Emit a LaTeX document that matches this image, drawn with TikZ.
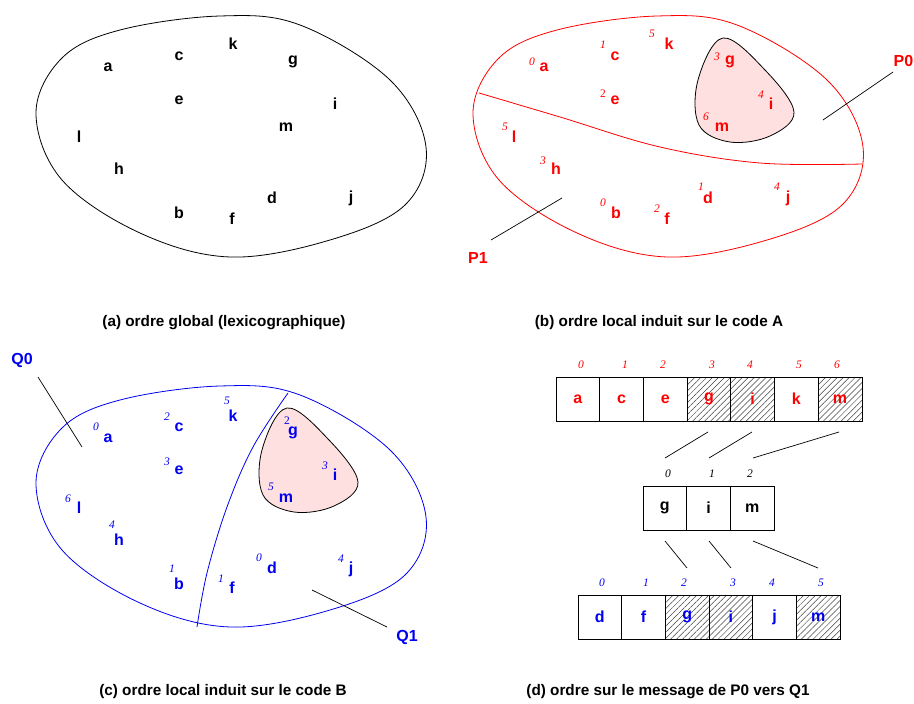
\documentclass[tikz,border=0pt]{standalone}
\usepackage{fontspec}
\setmainfont{Liberation Sans}
\newfontfamily\idxfont{Liberation Serif}
\usetikzlibrary{patterns.meta}
\definecolor{pinkfill}{RGB}{255,224,224}
\definecolor{myred}{RGB}{255,0,0}
\definecolor{myblue}{RGB}{0,0,240}
\newcommand\outerblob[1]{\draw[#1, line width=0.8pt] plot[smooth cycle, tension=0.6] coordinates{(36,113) (62,58) (120,30) (220,16) (300,25) (390,80) (426,147) (405,205) (330,240) (230,257) (140,233) (62,180)};}
\newcommand\innerblob{\draw[black, line width=0.8pt, fill=pinkfill] plot[smooth cycle, tension=0.6] coordinates{(723,38) (765,70) (794,112) (770,136) (730,142) (699,125) (698,80)};}
\begin{document}
\begin{tikzpicture}[x=1pt,y=-1pt,
  lt/.style={font=\fontsize{16}{16}\selectfont\bfseries, inner sep=0pt},
  ix/.style={font=\fontsize{11.5}{11.5}\selectfont\idxfont\itshape, inner sep=0pt},
  ixu/.style={font=\fontsize{11.5}{11.5}\selectfont\idxfont, inner sep=0pt},
  captxt/.style={font=\fontsize{15.3}{16}\selectfont\bfseries, inner sep=0pt},
  lbl/.style={font=\fontsize{16}{16}\selectfont\bfseries, inner sep=0pt},
  cell/.style={draw, line width=0.8pt, minimum width=43.7pt, minimum height=44pt, inner sep=0pt, font=\fontsize{16}{16}\selectfont\bfseries},
  hatch/.style={pattern={Lines[angle=45,distance=4.2pt,line width=0.5pt]}, pattern color=black!75},
  leader/.style={draw, black, line width=0.7pt}]
\useasboundingbox (0,0) rectangle (914,704);

% ---------- (a) ----------
\outerblob{black}
\begin{scope}[every node/.style={lt}]
\node (Aa) at (108,67) {a};
\node (Ac) at (179,56) {c};
\node (Ak) at (233,44) {k};
\node (Ag) at (293,62) {g};
\node (Ae) at (179,100) {e};
\node (Ai) at (335,104) {i};
\node (Am) at (286,127) {m};
\node (Al) at (79,137) {l};
\node (Ah) at (119,169) {h};
\node (Ab) at (179,213) {b};
\node (Af) at (232,219) {f};
\node (Ad) at (272,198) {d};
\node (Aj) at (351,198) {j};
\end{scope}
\node[captxt] (capA) at (224,323) {(a) ordre global (lexicographique)};

% ---------- (b) ----------
\begin{scope}[shift={(437,0)}]
\outerblob{myred}
\end{scope}
\innerblob
\draw[myred, line width=0.8pt] plot[smooth, tension=0.6] coordinates{(479,93) (560,117) (660,147) (760,163) (862,164)};
\begin{scope}[myred]
\node[lt] (Ba) at (544,67) {a};   \node[ix] (Ba0) at (532,62) {0};
\node[lt] (Bc) at (615,56) {c};   \node[ix] (Bc1) at (603,45) {1};
\node[lt] (Bk) at (669,44) {k};   \node[ix] (Bk5) at (652,34) {5};
\node[lt] (Bg) at (730,62) {g};   \node[ix] (Bg3) at (717,57) {3};
\node[lt] (Be) at (615,100) {e};  \node[ixu] (Be2) at (603,94) {2};
\node[lt] (Bi) at (771,104) {i};  \node[ix] (Bi4) at (761,95) {4};
\node[lt] (Bm) at (722,127) {m};  \node[ix] (Bm6) at (706,117) {6};
\node[lt] (Bl) at (514,137) {l};  \node[ix] (Bl5) at (505,127) {5};
\node[lt] (Bh) at (556,169) {h};  \node[ix] (Bh3) at (543,161) {3};
\node[lt] (Bb) at (616,213) {b};  \node[ix] (Bb0) at (603,203) {0};
\node[lt] (Bf) at (667,219) {f};  \node[ix] (Bf2) at (657,209) {2};
\node[lt] (Bd) at (708,198) {d};  \node[ix] (Bd1) at (701,187) {1};
\node[lt] (Bj) at (788,198) {j};  \node[ix] (Bj4) at (777,187) {4};
\node[lbl, anchor=east] (P0) at (913.5,61) {P0};
\node[lbl] (P1) at (478,258) {P1};
\end{scope}
\coordinate (p0a) at (893,72);
\coordinate (p0b) at (823,120);
\coordinate (p1a) at (491,240);
\coordinate (p1b) at (562,198);
\draw[leader] (p0a) -- (p0b);
\draw[leader] (p1a) -- (p1b);
\node[captxt] (capB) at (659,323) {(b) ordre local induit sur le code A};

% ---------- (c) ----------
\begin{scope}[shift={(0,370)}]
\outerblob{myblue}
\end{scope}
\begin{scope}[shift={(-436,370)}]
\innerblob
\end{scope}
\draw[myblue, line width=0.8pt] plot[smooth, tension=0.6] coordinates{(288,393) (253,447) (227,507) (207,573) (197,627)};
\begin{scope}[myblue]
\node[lt] (Ca) at (108,438) {a};  \node[ix] (Ca0) at (96,427) {0};
\node[lt] (Cc) at (179,427) {c};  \node[ix] (Cc2) at (167,417) {2};
\node[lt] (Ck) at (233,416) {k};  \node[ix] (Ck5) at (227,401) {5};
\node[lt] (Cg) at (293,433) {g};  \node[ixu] (Cg2) at (287,421) {2};
\node[lt] (Ce) at (179,470) {e};  \node[ix] (Ce3) at (167,462) {3};
\node[lt] (Ci) at (335,475) {i};  \node[ix] (Ci3) at (325,466) {3};
\node[lt] (Cm) at (286,498) {m};  \node[ix] (Cm5) at (271,487) {5};
\node[lt] (Cl) at (79,508) {l};   \node[ix] (Cl6) at (68,499) {6};
\node[lt] (Ch) at (119,540) {h};  \node[ix] (Ch4) at (112,525) {4};
\node[lt] (Cb) at (179,584) {b};  \node[ix] (Cb1) at (172,569) {1};
\node[lt] (Cf) at (232,588) {f};  \node[ix] (Cf1) at (221,579) {1};
\node[lt] (Cd) at (272,568) {d};  \node[ix] (Cd0) at (259,558) {0};
\node[lt] (Cj) at (351,569) {j};  \node[ix] (Cj4) at (341,559) {4};
\node[lbl] (Q0) at (22,360) {Q0};
\node[lbl] (Q1) at (407,637) {Q1};
\end{scope}
\coordinate (q0a) at (38,377);
\coordinate (q0b) at (82,447);
\coordinate (q1a) at (312,590);
\coordinate (q1b) at (387,627);
\draw[leader] (q0a) -- (q0b);
\draw[leader] (q1a) -- (q1b);
\node[captxt] (capC) at (223,692) {(c) ordre local induit sur le code B};

% ---------- (d) ----------
\begin{scope}[text=myred]
\node[cell] (T0) at (577.9,399) {a};
\node[cell] (T1) at (621.6,399) {c};
\node[cell] (T2) at (665.3,399) {e};
\node[cell, hatch] (T3) at (709.0,399) {g};
\node[cell, hatch] (T4) at (752.7,399) {i};
\node[cell] (T5) at (796.4,399) {k};
\node[cell, hatch] (T6) at (840.1,399) {m};
\end{scope}
\begin{scope}[myred]
\node[ix] (t0) at (581,365) {0};
\node[ix] (t1) at (625,365) {1};
\node[ix] (t2) at (663,365) {2};
\node[ix] (t3) at (712,365) {3};
\node[ix] (t4) at (750,365) {4};
\node[ix] (t5) at (799,365) {5};
\node[ix] (t6) at (837,365) {6};
\end{scope}

\node[cell] (M0) at (664.8,508) {g};
\node[cell] (M1) at (708.5,508) {i};
\node[cell] (M2) at (752.2,508) {m};
\node[ix] (m0) at (668,474) {0};
\node[ix] (m1) at (712,474) {1};
\node[ix] (m2) at (750,474) {2};

\begin{scope}[text=myblue]
\node[cell] (L0) at (599.8,617) {d};
\node[cell] (L1) at (643.5,617) {f};
\node[cell, hatch] (L2) at (687.2,617) {g};
\node[cell, hatch] (L3) at (730.8,617) {i};
\node[cell] (L4) at (774.5,617) {j};
\node[cell, hatch] (L5) at (818.2,617) {m};
\end{scope}
\begin{scope}[myblue]
\node[ix] (l0) at (602,583) {0};
\node[ix] (l1) at (646,583) {1};
\node[ix] (l2) at (684,583) {2};
\node[ix] (l3) at (733,583) {3};
\node[ix] (l4) at (772,583) {4};
\node[ix] (l5) at (821,583) {5};
\end{scope}

\coordinate (u1) at (708,432); \coordinate (v1) at (665,458);
\coordinate (u2) at (752,432); \coordinate (v2) at (709,458);
\coordinate (u3) at (839,432); \coordinate (v3) at (753,458);
\coordinate (w1) at (665,541); \coordinate (z1) at (687,568);
\coordinate (w2) at (709,541); \coordinate (z2) at (731,568);
\coordinate (w3) at (753,541); \coordinate (z3) at (818,568);
\draw[leader] (u1) -- (v1);
\draw[leader] (u2) -- (v2);
\draw[leader] (u3) -- (v3);
\draw[leader] (w1) -- (z1);
\draw[leader] (w2) -- (z2);
\draw[leader] (w3) -- (z3);
\node[captxt] (capD) at (668,692) {(d) ordre sur le message de P0 vers Q1};
\end{tikzpicture}
\end{document}
